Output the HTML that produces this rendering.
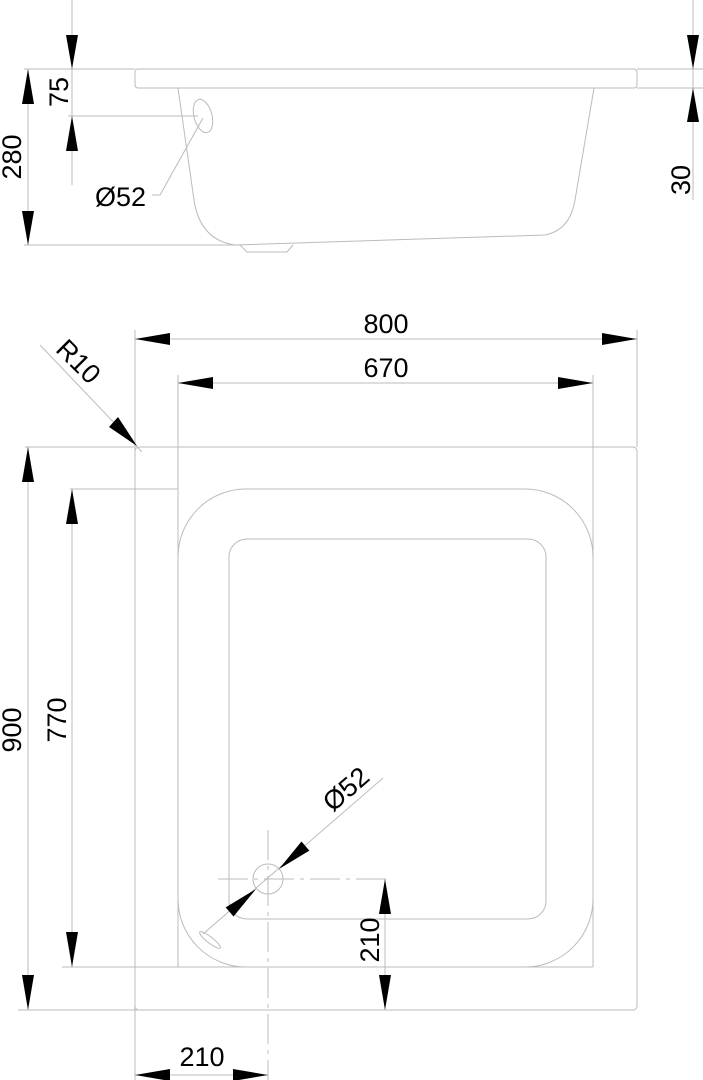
<!DOCTYPE html>
<html><head><meta charset="utf-8"><style>
html,body{margin:0;padding:0;background:#fff}
svg{display:block}
text{font-family:"Liberation Sans",sans-serif;font-size:27px;fill:#000}
</style></head><body>
<svg width="703" height="1080" viewBox="0 0 703 1080" xmlns="http://www.w3.org/2000/svg">
<g fill="none" stroke="#bbb" stroke-width="1">
<rect x="135" y="69" width="502" height="19" rx="3"/>
<path d="M178 88 L194 200 Q200 240 235 245 L545 235 Q570 230 575 200 L594 88"/>
<path d="M240 245 L247 252 L287 252 L293 245"/>
<ellipse cx="203" cy="116" rx="9" ry="17" transform="rotate(-15 203 116)"/>
<path d="M203 118 L160 195 L152 195"/>
<line x1="72" y1="0" x2="72" y2="185"/>
<line x1="68" y1="116" x2="198" y2="116"/>
<line x1="28" y1="69" x2="28" y2="245"/>
<line x1="24" y1="69" x2="135" y2="69"/>
<line x1="24" y1="245" x2="240" y2="245"/>
<line x1="693" y1="0" x2="693" y2="200"/>
<line x1="637" y1="69" x2="703" y2="69"/>
<line x1="637" y1="88" x2="703" y2="88"/>
<rect x="135" y="447" width="502" height="563" rx="4"/>
<rect x="178" y="489" width="415" height="478" rx="68"/>
<rect x="229" y="539" width="317" height="380" rx="18"/>
<line x1="135" y1="330" x2="135" y2="1080"/>
<line x1="637" y1="330" x2="637" y2="447"/>
<line x1="178" y1="375" x2="178" y2="967"/>
<line x1="593" y1="375" x2="593" y2="967"/>
<line x1="135" y1="339" x2="637" y2="339"/>
<line x1="178" y1="383" x2="593" y2="383"/>
<line x1="25" y1="447" x2="135" y2="447"/>
<line x1="70" y1="489" x2="178" y2="489"/>
<line x1="62" y1="967" x2="593" y2="967"/>
<line x1="18" y1="1010" x2="135" y2="1010"/>
<line x1="135" y1="1010" x2="390" y2="1010"/>
<line x1="28" y1="447" x2="28" y2="1010"/>
<line x1="72" y1="489" x2="72" y2="967"/>
<line x1="385" y1="879" x2="385" y2="1010"/>
<line x1="218" y1="879" x2="390" y2="879" stroke-dasharray="30 6 4 6"/>
<line x1="268" y1="830" x2="268" y2="1080" stroke-dasharray="30 6 4 6"/>
<circle cx="268" cy="879" r="15"/>
<line x1="383" y1="778" x2="203" y2="934"/>
<ellipse cx="210" cy="940" rx="13" ry="3" transform="rotate(38 210 940)"/>
<line x1="135" y1="1075" x2="268" y2="1075"/>
<line x1="40" y1="345" x2="142" y2="452"/>
</g>
<g fill="#000">
<polygon points="72,69 66,35 78,35"/>
<polygon points="72,116 66,151 78,151"/>
<polygon points="28,69 22,104 34,104"/>
<polygon points="28,245 22,211 34,211"/>
<polygon points="693,69 687,35 699,35"/>
<polygon points="693,88 687,122 699,122"/>
<polygon points="135,339 170,333 170,345"/>
<polygon points="637,339 602,333 602,345"/>
<polygon points="178,383 213,377 213,389"/>
<polygon points="593,383 558,377 558,389"/>
<polygon points="28,447 22,482 34,482"/>
<polygon points="28,1010 22,975 34,975"/>
<polygon points="72,489 66,524 78,524"/>
<polygon points="72,967 66,932 78,932"/>
<polygon points="385,879 379,914 391,914"/>
<polygon points="385,1010 379,975 391,975"/>
<polygon points="135,1075 170,1069 170,1081"/>
<polygon points="268,1075 233,1069 233,1081"/>
<polygon points="137,446 109,427 118,417"/>
<g transform="translate(279,869) rotate(-41)"><polygon points="0,0 35,-6 35,6"/></g>
<g transform="translate(256,889) rotate(139)"><polygon points="0,0 35,-6 35,6"/></g>
</g>
<text x="95" y="206">Ø52</text>
<text transform="translate(68,92) rotate(-90)" text-anchor="middle">75</text>
<text transform="translate(21,157) rotate(-90)" text-anchor="middle">280</text>
<text transform="translate(690,180) rotate(-90)" text-anchor="middle">30</text>
<text x="386" y="333" text-anchor="middle">800</text>
<text x="386" y="377" text-anchor="middle">670</text>
<text transform="translate(21,730) rotate(-90)" text-anchor="middle">900</text>
<text transform="translate(66,720) rotate(-90)" text-anchor="middle">770</text>
<text transform="translate(379,940) rotate(-90)" text-anchor="middle">210</text>
<text x="202" y="1066" text-anchor="middle">210</text>
<text transform="translate(352,796) rotate(-41)" text-anchor="middle">Ø52</text>
<text transform="translate(72,368) rotate(45)" text-anchor="middle">R10</text>
</svg>
</body></html>
